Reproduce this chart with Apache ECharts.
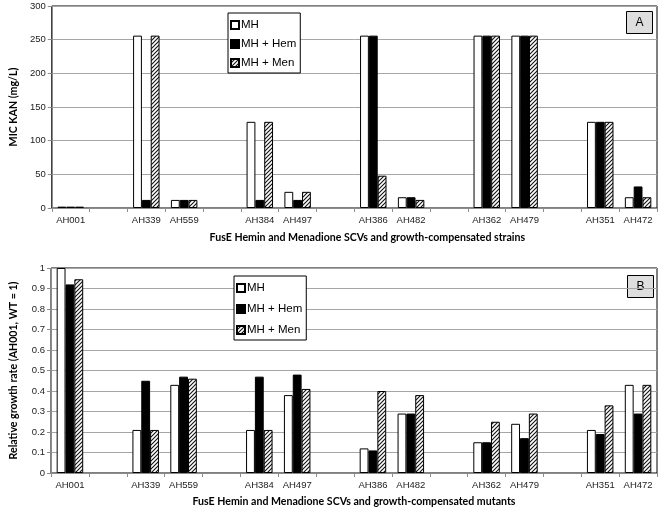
<!DOCTYPE html>
<html>
<head>
<meta charset="utf-8">
<script src="https://cdn.jsdelivr.net/npm/echarts@6/dist/echarts.min.js"></script>
<style>
html,body{margin:0;padding:0;background:#fff;}
#chart{width:662px;height:510px;}
</style>
</head>
<body>
<div id="chart"></div>
<script>
// ---- data ----
const categories = ['AH001','','AH339','AH559','','AH384','AH497','','AH386','AH482','','AH362','AH479','','AH351','AH472'];
const seriesNames = ['MH','MH + Hem','MH + Men'];
// Panel A: MIC KAN (mg/L)
const micMH  = [2,null,256,12,null,128,24,null,256,16,null,256,256,null,128,16];
const micHem = [2,null,12,12,null,12,12,null,256,16,null,256,256,null,128,32];
const micMen = [2,null,256,12,null,128,24,null,48,12,null,256,256,null,128,16];
// Panel B: relative growth rate
const growthMH  = [1.0,null,0.21,0.43,null,0.21,0.38,null,0.12,0.29,null,0.15,0.24,null,0.21,0.43];
const growthHem = [0.92,null,0.45,0.47,null,0.47,0.48,null,0.11,0.29,null,0.15,0.17,null,0.19,0.29];
const growthMen = [0.945,null,0.21,0.46,null,0.21,0.41,null,0.40,0.38,null,0.25,0.29,null,0.33,0.43];
// axis ranges
const yAxisA = {min:0, max:300, interval:50};
const yAxisB = {min:0, max:1, interval:0.1};
const xNameA = 'FusE Hemin and Menadione SCVs and growth-compensated strains';
const xNameB = 'FusE Hemin and Menadione SCVs and growth-compensated mutants';
const yNameA = 'MIC KAN (mg/L)';
const yNameB = 'Relative growth rate (AH001, WT = 1)';

// hatch pattern
const pc = document.createElement('canvas');
pc.width = 4; pc.height = 4;
const g = pc.getContext('2d');
g.fillStyle = '#fff'; g.fillRect(0,0,4,4);
g.strokeStyle = '#111'; g.lineWidth = 1.1;
g.beginPath();
g.moveTo(-1,5); g.lineTo(5,-1);
g.moveTo(-1,1); g.lineTo(1,-1);
g.moveTo(3,5); g.lineTo(5,3);
g.stroke();
const hatch = {image: pc, repeat: 'repeat'};

const fills = ['#ffffff', '#000000', hatch];
const tickFont = {fontFamily:'Liberation Sans, Arial, sans-serif', fontSize:9.5, color:'#222'};
const nameFont = {fontFamily:'Lato, sans-serif', fontSize:10.6, fontWeight:'bold', color:'#000'};

function xAxis(gridIndex, name, gap, pad){
  return {
    type:'category', gridIndex, data:categories, boundaryGap:true,
    name, nameLocation:'middle', nameGap:gap,
    nameTextStyle:Object.assign({padding:pad}, nameFont),
    axisLine:{show:true, lineStyle:{color:'#8c8c8c', width:1}},
    axisTick:{show:true, length:4, lineStyle:{color:'#8c8c8c'}},
    axisLabel:Object.assign({interval:0, margin:7}, tickFont),
    splitLine:{show:false}
  };
}
function yAxis(gridIndex, r, name, gap){
  return {
    type:'value', gridIndex, min:r.min, max:r.max, interval:r.interval,
    name, nameLocation:'middle', nameGap:gap, nameTextStyle:nameFont,
    axisLine:{show:true, lineStyle:{color:'#8c8c8c', width:1}},
    axisTick:{show:true, length:4, lineStyle:{color:'#8c8c8c'}},
    axisLabel:Object.assign({margin:6}, tickFont),
    splitLine:{show:true, lineStyle:{color:'#a6a6a6', width:1}}
  };
}
function bars(idx, arrays){
  return arrays.map((d,i)=>({
    name:seriesNames[i], type:'bar', xAxisIndex:idx, yAxisIndex:idx, data:d,
    barGap:'0%', barCategoryGap:'30%',
    itemStyle:{color:fills[i], borderColor:'#000', borderWidth:1},
    emphasis:{disabled:true}, animation:false
  }));
}
function legend(left, top, gap){
  return {
    data:seriesNames, orient:'vertical', left, top, selectedMode:false,
    icon:'rect', itemWidth:8, itemHeight:8, itemGap:gap,
    backgroundColor:'#fff', borderColor:'#000', borderWidth:1,
    padding:[5,4,3,2],
    textStyle:{fontFamily:'Liberation Sans, Arial, sans-serif', fontSize:11.5, color:'#000', lineHeight:14, padding:[0,0,0,-3]}
  };
}
function labelBox(x, y, t){
  return {
    type:'group', left:x, top:y, children:[
      {type:'rect', shape:{x:0,y:0,width:26,height:22}, style:{fill:'#dedede', stroke:'#000', lineWidth:1}},
      {type:'text', style:{x:13, y:11, text:t, align:'center', verticalAlign:'middle', font:'12px Liberation Sans, Arial, sans-serif', fill:'#000'}}
    ]
  };
}

const chart = echarts.init(document.getElementById('chart'), null, {renderer:'canvas'});
chart.setOption({
  animation:false,
  backgroundColor:'#fff',
  grid:[
    {left:45, right:5, top:6, height:202, show:true, borderColor:'#000', borderWidth:1, backgroundColor:'#fff'},
    {left:48, right:5, top:268, height:205, show:true, borderColor:'#000', borderWidth:1, backgroundColor:'#fff'}
  ],
  xAxis:[xAxis(0, xNameA, 24, [0,0,0,26]), xAxis(1, xNameB, 23, [0,0,0,0])],
  yAxis:[yAxis(0, yAxisA, yNameA, 29), yAxis(1, yAxisB, yNameB, 32)],
  legend:[legend(228, 13, 5), legend(234, 276, 7)],
  series:[...bars(0,[micMH,micHem,micMen]), ...bars(1,[growthMH,growthHem,growthMen])],
  graphic:[labelBox(626, 11, 'A'), labelBox(627, 275, 'B')]
});
</script>
</body>
</html>
